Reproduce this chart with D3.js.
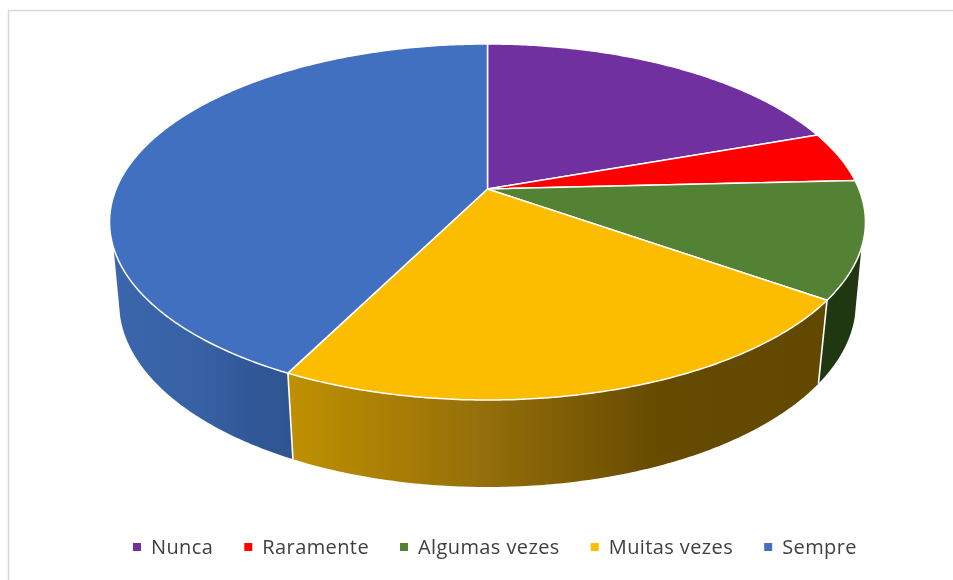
<!DOCTYPE html>
<html><head><meta charset="utf-8">
<script src="https://cdn.jsdelivr.net/npm/d3@7"></script>
<style>html,body{margin:0;padding:0;background:#fff}svg{display:block;filter:blur(0.45px)}</style>
</head><body><svg id="c" width="953" height="580"></svg>
<script>
const categories = ["Nunca","Raramente","Algumas vezes","Muitas vezes","Sempre"];
const values = [19.6,4.6,10.6,22.6,42.6];
const topColors = ["#7030a0","#ff0000","#548235","#fcbd00","#4270c0"];

const W=953,H=580,svg=d3.select("#c");
const cx=487.5,k=-0.1854;
// perspective projection of the unit disc, for the top face and for the bottom rim
const projector=(cy,a,b)=>(t)=>{const x=Math.sin(t),y=-Math.cos(t),w=1+k*y;return [cx+b*x/w,cy+a*y/w];};
const proj=projector(189,171.9,371.4), low=projector(268.5,178,362);
const line=d3.line();
const sample=(f,t0,t1)=>{const n=Math.max(2,Math.ceil((t1-t0)/0.01));return d3.range(n+1).map(i=>f(t0+(t1-t0)*i/n));};
const arcs=d3.pie().sort(null).value(d=>d)(values);
const rad=Math.PI/180;
const vis0=108.8*rad,vis1=251.2*rad,low0=105*rad,low1=255*rad;

const defs=svg.append("defs");
const grad=(id,x1,x2,stops)=>{const g=defs.append("linearGradient").attr("id",id).attr("gradientUnits","userSpaceOnUse")
  .attr("x1",x1).attr("x2",x2).attr("y1",0).attr("y2",0);
  stops.forEach(s=>g.append("stop").attr("offset",s[0]).attr("stop-color",s[1]));};
grad("gY",290,820,[[0,"#bf9000"],[0.35,"#96700a"],[0.7,"#654a00"],[1,"#634800"]]);
grad("gB",112,293,[[0,"#3c66ac"],[0.5,"#3761a4"],[0.8,"#305796"],[1,"#2f5490"]]);
const sideFill=["#203812","#203812","#203812","url(#gY)","url(#gB)"];

svg.append("rect").attr("width",W).attr("height",H).attr("fill","#fff");
svg.append("path").attr("d","M8.5 580V10.5H953").attr("fill","none").attr("stroke","#d8d8d8").attr("stroke-width",1.5);

// sides
arcs.forEach((d,i)=>{
  const t0=Math.max(d.startAngle,vis0),t1=Math.min(d.endAngle,vis1);
  if(t1<=t0) return;
  const l0=d.startAngle<=vis0?low0:d.startAngle, l1=d.endAngle>=vis1?low1:d.endAngle;
  svg.append("path").attr("d",line(sample(proj,t0,t1).concat(sample(low,l0,l1).reverse()))+"Z").attr("fill",sideFill[i]);
});
// seams
arcs.forEach(d=>{
  const t=d.endAngle;
  if(t>vis0&&t<vis1){
    svg.append("path").attr("d",line([proj(t),low(t)])).attr("stroke","#fff").attr("stroke-width",1.6).attr("fill","none");}
});
// top
arcs.forEach((d,i)=>{
  svg.append("path").attr("d",line([[cx,189]].concat(sample(proj,d.startAngle,d.endAngle)))+"Z")
    .attr("fill",topColors[i]).attr("stroke","#fff").attr("stroke-width",1.5).attr("stroke-linejoin","round");
});
// legend
let lx=133;
categories.forEach((c,i)=>{
  svg.append("rect").attr("x",lx).attr("y",543).attr("width",8).attr("height",8).attr("fill",topColors[i]);
  const t=svg.append("text").attr("x",lx+18).attr("y",554).text(c)
    .attr("font-family","'Open Sans',sans-serif").attr("font-size",20).attr("letter-spacing",0.4).attr("fill","#404040");
  lx+=18+t.node().getComputedTextLength()+31;
});
</script></body></html>
